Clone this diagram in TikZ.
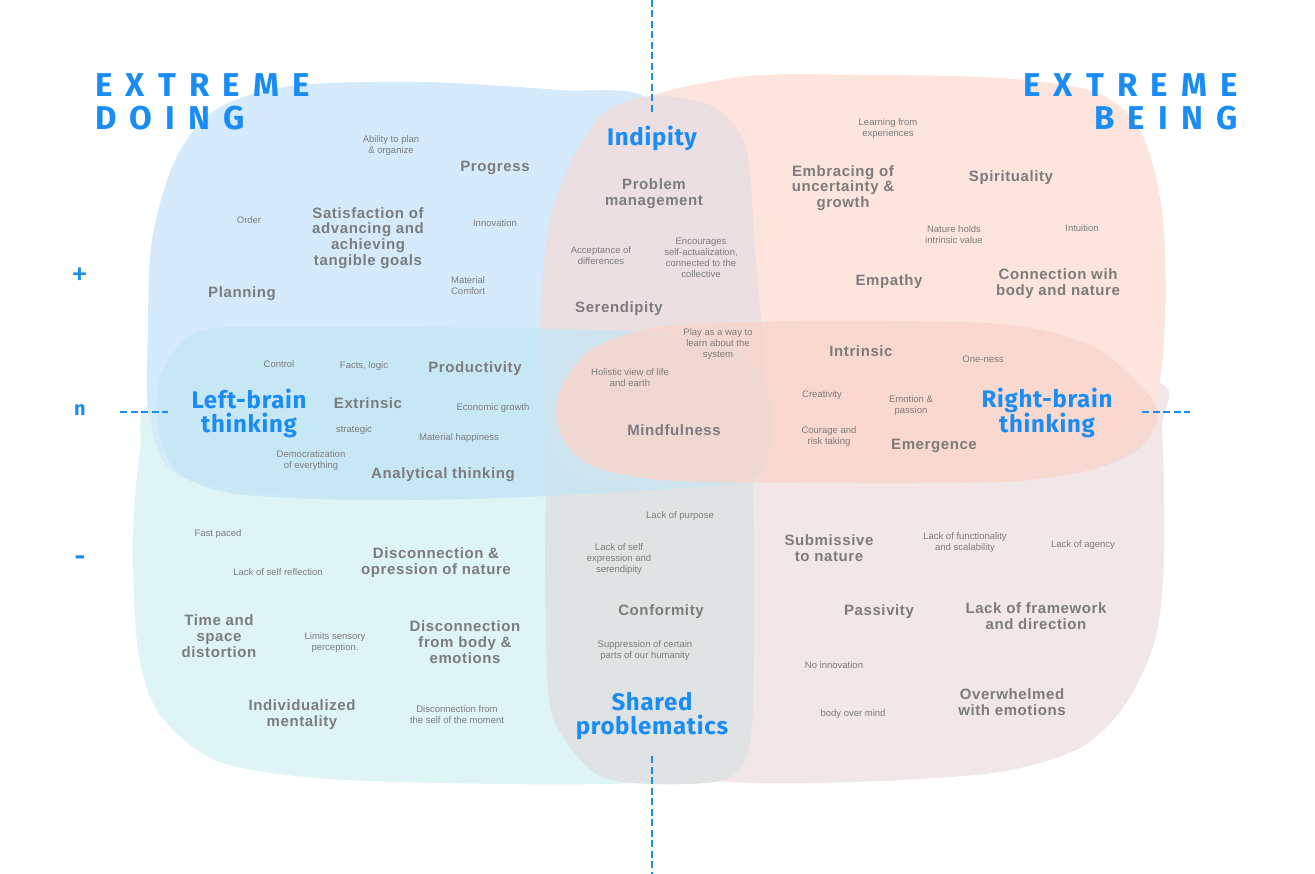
\documentclass[tikz,border=0pt]{standalone}
\usepackage{fontspec}
\usepackage{xcolor}
\usetikzlibrary{positioning}
\setmainfont{Liberation Sans}
\newfontfamily\lblfam{Liberation Sans}[LetterSpace=4]
\newfontfamily\notefam{Liberation Sans}
\newfontfamily\headfam{Fira Sans}[LetterSpace=3]
\newfontfamily\extfam{Fira Sans}[LetterSpace=40]
\definecolor{doingblue}{HTML}{D5EBFB}
\definecolor{beingpink}{HTML}{FDE4DC}
\definecolor{leftteal}{HTML}{C4E6F3}
\definecolor{rightpink}{HTML}{F9D6CC}
\definecolor{lowteal}{HTML}{DFF4F5}
\definecolor{lowrose}{HTML}{F0E7E6}
\definecolor{midmauve}{HTML}{ECDFE2}
\definecolor{midgrey}{HTML}{DFE3E3}
\definecolor{inkblue}{HTML}{1A8CF5}
\definecolor{inkgrey}{HTML}{7C7C7C}
\tikzset{
  lblbig/.style  ={font=\lblfam\bfseries\fontsize{15}{15.8}\selectfont, text=inkgrey, align=center, inner sep=0pt},
  lblnote/.style ={font=\notefam\fontsize{9.5}{11}\selectfont, text=inkgrey, align=center, inner sep=0pt},
  lblhead/.style ={font=\headfam\bfseries\fontsize{24}{24}\selectfont, text=inkblue, align=center, inner sep=0pt},
  lblext/.style  ={font=\extfam\bfseries\fontsize{33}{33}\selectfont, text=inkblue, inner sep=0pt},
  lbltick/.style ={font=\headfam\bfseries\fontsize{20}{20}\selectfont, text=inkblue, inner sep=0pt},
  axisline/.style={inkblue, line width=2pt, dash pattern=on 7pt off 3.5pt},
}

\begin{document}
\begin{tikzpicture}[x=1pt, y=-1pt]
  \useasboundingbox (0,0) rectangle (1315,874);
  % blobs, back to front
  \fill[lowteal] plot[smooth cycle] coordinates {(155,400) (300,370) (600,370) (700,400) (712,600) (705,720)
    (680,772) (630,783) (500,784) (330,779) (220,762) (160,715) (138,650) (133,540) (140,450)};
  \fill[lowrose] plot[smooth cycle] coordinates {(640,380) (900,370) (1150,380) (1162,430) (1164,560) (1155,640)
    (1125,705) (1080,748) (1000,772) (880,781) (760,783) (690,776) (650,740) (632,600)};
  \fill[doingblue] plot[smooth cycle] coordinates {(148,330) (152,240) (175,160) (215,110) (290,86) (420,82)
    (560,90) (650,100) (700,200) (700,380) (640,480) (400,500) (190,480) (150,420)};
  \fill[beingpink] plot[smooth cycle] coordinates {(592,140) (645,98) (750,76) (870,75) (1000,78) (1095,92)
    (1140,130) (1162,210) (1165,320) (1152,405) (1090,445) (950,462) (780,462) (640,455) (595,300)};
  \fill[midgrey] plot[smooth cycle] coordinates {(560,420) (740,420) (753,500) (753,700) (745,760) (720,781)
    (650,784) (600,776) (565,740) (548,690) (546,500)};
  \fill[midmauve] plot[smooth cycle] coordinates {(652,96) (712,106) (746,148) (755,250) (766,380) (768,445)
    (752,478) (690,486) (600,482) (552,450) (540,340) (548,230) (572,160) (605,112)};
  \fill[leftteal, fill opacity=0.75] plot[smooth cycle] coordinates {(200,331) (300,327) (500,328) (650,332)
    (730,345) (768,390) (770,450) (748,480) (650,490) (500,498) (350,500) (230,493) (175,470) (157,420) (163,370)};
  \fill[rightpink, fill opacity=0.8] plot[smooth cycle] coordinates {(558,395) (590,350) (660,327) (800,321)
    (1000,324) (1090,345) (1140,385) (1158,415) (1140,448) (1090,470) (1000,482) (800,483) (660,480) (590,465) (561,435)};

  % axes
  \coordinate (vt1) at (652,0);    \coordinate (vt2) at (652,113);
  \coordinate (vb1) at (652,756);  \coordinate (vb2) at (652,874);
  \coordinate (hl1) at (120,412);  \coordinate (hl2) at (168,412);
  \coordinate (hr1) at (1142,412); \coordinate (hr2) at (1190,412);
  \draw[axisline](vt1)--(vt2); \draw[axisline](vb1)--(vb2);
  \draw[axisline](hl1)--(hl2); \draw[axisline](hr1)--(hr2);
  \node[lbltick, font=\headfam\fontsize{34}{34}\selectfont] (plus) at (80,277) {+};
  \node[lbltick] (neut) at (80,410) {n};
  \node[lbltick, font=\headfam\bfseries\fontsize{26}{26}\selectfont] (minus) at (80,561) {-};

  % extreme doing / being
  \node[lblext, align=left, anchor=north west] (doing) at (95,73) {EXTREME\\DOING};
  \node[lblext, align=right, anchor=north east] (being) at (1238,73) {EXTREME\\BEING};

  % top left
  \node[lblnote] (plan) at (391,146) {Ability to plan\\\& organize};
  \node[lblbig] (progr) at (495,168) {Progress};
  \node[lblnote] (order) at (249,220) {Order};
  \node[lblbig] (satis) at (368,238) {Satisfaction of\\advancing and\\achieving\\tangible goals};
  \node[lblnote] (innov) at (495,223) {Innovation};
  \node[lblbig] (plann) at (242,294) {Planning};
  \node[lblnote] (mcomf) at (468,286) {Material\\Comfort};

  % indipity
  \node[lblhead] (indip) at (652,138) {Indipity};
  \node[lblbig] (probm) at (654,194) {Problem\\management};
  \node[lblnote] (accep) at (601,256) {Acceptance of\\differences};
  \node[lblnote] (encou) at (701,258) {Encourages\\self-actualization,\\connected to the\\collective};
  \node[lblbig] (seren) at (619,309) {Serendipity};
  \node[lblnote] (playw) at (718,344) {Play as a way to\\learn about the\\system};
  \node[lblnote] (holis) at (630,378) {Holistic view of life\\and earth};
  \node[lblbig] (mindf) at (674,430) {Mindfulness};

  % top right
  \node[lblnote] (learn) at (888,129) {Learning from\\experiences};
  \node[lblbig] (embra) at (843,188) {Embracing of\\uncertainty \&\\growth};
  \node[lblbig] (spiri) at (1011,178) {Spirituality};
  \node[lblnote] (natur) at (954,235) {Nature holds\\intrinsic value};
  \node[lblnote] (intui) at (1082,228) {Intuition};
  \node[lblbig] (empat) at (889,282) {Empathy};
  \node[lblbig] (conne) at (1058,284) {Connection wih\\body and nature};

  % right-brain
  \node[lblbig] (intri) at (861,351) {Intrinsic};
  \node[lblnote] (onene) at (983,359) {One-ness};
  \node[lblnote] (creat) at (822,395) {Creativity};
  \node[lblnote] (emoti) at (911,406) {Emotion \&\\passion};
  \node[lblhead] (right) at (1047,413) {Right-brain\\thinking};
  \node[lblnote] (coura) at (829,437) {Courage and\\risk taking};
  \node[lblbig] (emerg) at (934,446) {Emergence};

  % left-brain
  \node[lblnote] (contr) at (279,364) {Control};
  \node[lblnote] (facts) at (364,366) {Facts, logic};
  \node[lblbig] (produ) at (475,369) {Productivity};
  \node[lblhead] (left) at (249,413) {Left-brain\\thinking};
  \node[lblbig] (extri) at (368,403) {Extrinsic};
  \node[lblnote] (econo) at (493,408) {Economic growth};
  \node[lblnote] (strat) at (354,430) {strategic};
  \node[lblnote] (mhapp) at (459,438) {Material happiness};
  \node[lblnote] (democ) at (311,461) {Democratization\\of everything};
  \node[lblbig] (analy) at (443,475) {Analytical thinking};

  % bottom left
  \node[lblnote] (fastp) at (218,534) {Fast paced};
  \node[lblnote] (lself) at (278,572) {Lack of self reflection};
  \node[lblbig] (disna) at (436,563) {Disconnection \&\\opression of nature};
  \node[lblbig] (times) at (219,636) {Time and\\space\\distortion};
  \node[lblnote] (limit) at (335,643) {Limits sensory\\perception.};
  \node[lblbig] (disbo) at (465,642) {Disconnection\\from body \&\\emotions};
  \node[lblbig] (indiv) at (302,715) {Individualized\\mentality};
  \node[lblnote] (dismo) at (457,715) {Disconnection from\\the self of the moment};

  % shared problematics
  \node[lblnote] (lpurp) at (680,516) {Lack of purpose};
  \node[lblnote] (lexpr) at (619,559) {Lack of self\\expression and\\serendipity};
  \node[lblbig] (confo) at (661,612) {Conformity};
  \node[lblnote] (suppr) at (645,651) {Suppression of certain\\parts of our humanity};
  \node[lblhead] (share) at (652,716) {Shared\\problematics};

  % bottom right
  \node[lblbig] (submi) at (829,548) {Submissive\\to nature};
  \node[lblnote] (lfunc) at (965,543) {Lack of functionality\\and scalability};
  \node[lblnote] (lagen) at (1083,545) {Lack of agency};
  \node[lblbig] (passi) at (879,612) {Passivity};
  \node[lblbig] (lfram) at (1036,616) {Lack of framework\\and direction};
  \node[lblnote] (noinn) at (834,665) {No innovation};
  \node[lblnote] (bodym) at (853,714) {body over mind};
  \node[lblbig] (overw) at (1012,702) {Overwhelmed\\with emotions};
\end{tikzpicture}
\end{document}
